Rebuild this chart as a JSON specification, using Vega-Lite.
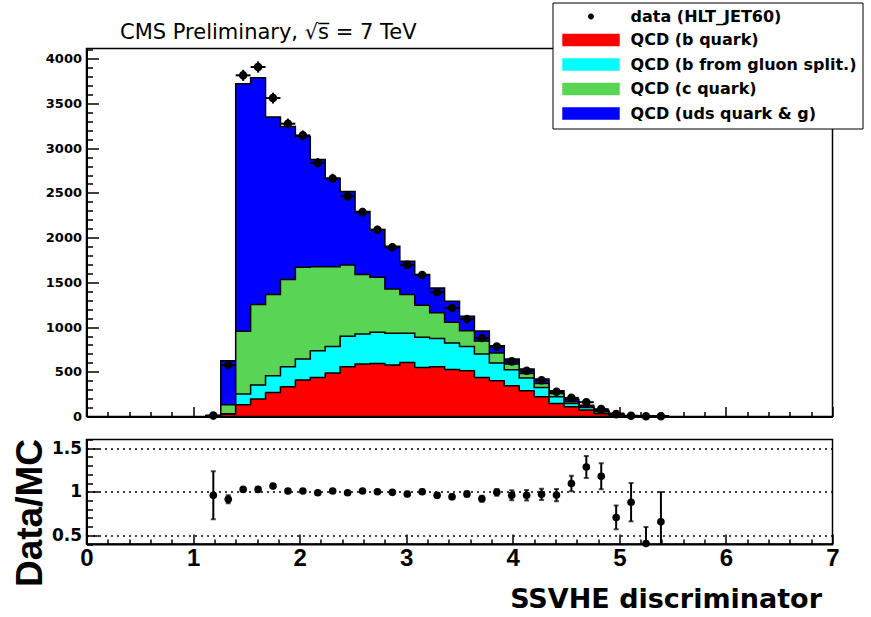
{
  "$schema": "https://vega.github.io/schema/vega-lite/v6.json",
  "background": "white",
  "padding": {"left": 10.5, "top": 1.5, "right": 2, "bottom": 2},
  "bounds": "flush",
  "spacing": 23,
  "config": {
    "view": {"stroke": "black", "strokeWidth": 1.5},
    "axis": {"labelFlush": false, "labelOverlap": false, "domainColor": "black", "tickColor": "black", "labelColor": "black", "titleColor": "black", "grid": false, "tickWidth": 1.5, "domainWidth": 2},
    "legend": {"orient": "none", "legendX": 466, "legendY": -46, "title": null, "padding": 6, "strokeColor": "black", "fillColor": "white", "labelFont": "DejaVu Sans", "labelFontWeight": "bold", "labelFontSize": 16, "labelColor": "black", "labelLimit": 400, "symbolSize": 156, "symbolStrokeColor": "black", "symbolStrokeWidth": 1, "symbolOffset": 24.5, "labelOffset": 31.6, "rowPadding": 6.5, "cornerRadius": 0, "symbolOpacity": 1}
  },
  "datasets": {
    "hist": [
      {"lo": 1.12, "hi": 1.26, "x": 1.19, "b": 2, "bg": 3, "c": 5, "all": 10, "data": 10, "err": 3},
      {"lo": 1.26, "hi": 1.40, "x": 1.33, "b": 25, "bg": 32, "c": 131, "all": 624, "data": 575, "err": 24},
      {"lo": 1.40, "hi": 1.54, "x": 1.47, "b": 131, "bg": 251, "c": 952, "all": 3722, "data": 3815, "err": 62},
      {"lo": 1.54, "hi": 1.68, "x": 1.61, "b": 195, "bg": 352, "c": 1251, "all": 3789, "data": 3908, "err": 63},
      {"lo": 1.68, "hi": 1.82, "x": 1.75, "b": 269, "bg": 456, "c": 1363, "all": 3348, "data": 3561, "err": 60},
      {"lo": 1.82, "hi": 1.96, "x": 1.89, "b": 333, "bg": 557, "c": 1531, "all": 3244, "data": 3274, "err": 57},
      {"lo": 1.96, "hi": 2.10, "x": 2.03, "b": 408, "bg": 643, "c": 1669, "all": 3132, "data": 3143, "err": 56},
      {"lo": 2.10, "hi": 2.24, "x": 2.17, "b": 437, "bg": 736, "c": 1675, "all": 2875, "data": 2837, "err": 53},
      {"lo": 2.24, "hi": 2.38, "x": 2.31, "b": 486, "bg": 784, "c": 1675, "all": 2665, "data": 2662, "err": 52},
      {"lo": 2.38, "hi": 2.52, "x": 2.45, "b": 557, "bg": 896, "c": 1695, "all": 2516, "data": 2464, "err": 50},
      {"lo": 2.52, "hi": 2.66, "x": 2.59, "b": 587, "bg": 923, "c": 1587, "all": 2292, "data": 2285, "err": 48},
      {"lo": 2.66, "hi": 2.80, "x": 2.73, "b": 594, "bg": 941, "c": 1557, "all": 2091, "data": 2087, "err": 46},
      {"lo": 2.80, "hi": 2.94, "x": 2.87, "b": 575, "bg": 930, "c": 1427, "all": 1905, "data": 1893, "err": 44},
      {"lo": 2.94, "hi": 3.08, "x": 3.01, "b": 605, "bg": 930, "c": 1363, "all": 1736, "data": 1695, "err": 41},
      {"lo": 3.08, "hi": 3.22, "x": 3.15, "b": 549, "bg": 885, "c": 1243, "all": 1587, "data": 1583, "err": 40},
      {"lo": 3.22, "hi": 3.36, "x": 3.29, "b": 557, "bg": 873, "c": 1161, "all": 1438, "data": 1390, "err": 37},
      {"lo": 3.36, "hi": 3.50, "x": 3.43, "b": 526, "bg": 822, "c": 1053, "all": 1288, "data": 1214, "err": 35},
      {"lo": 3.50, "hi": 3.64, "x": 3.57, "b": 512, "bg": 784, "c": 960, "all": 1120, "data": 1091, "err": 33},
      {"lo": 3.64, "hi": 3.78, "x": 3.71, "b": 437, "bg": 699, "c": 845, "all": 956, "data": 878, "err": 30},
      {"lo": 3.78, "hi": 3.92, "x": 3.85, "b": 400, "bg": 598, "c": 710, "all": 792, "data": 781, "err": 28},
      {"lo": 3.92, "hi": 4.06, "x": 3.99, "b": 344, "bg": 523, "c": 587, "all": 643, "data": 616, "err": 25},
      {"lo": 4.06, "hi": 4.20, "x": 4.13, "b": 288, "bg": 430, "c": 482, "all": 531, "data": 512, "err": 23},
      {"lo": 4.20, "hi": 4.34, "x": 4.27, "b": 221, "bg": 325, "c": 370, "all": 419, "data": 405, "err": 20},
      {"lo": 4.34, "hi": 4.48, "x": 4.41, "b": 146, "bg": 221, "c": 258, "all": 288, "data": 277, "err": 17},
      {"lo": 4.48, "hi": 4.62, "x": 4.55, "b": 108, "bg": 146, "c": 165, "all": 190, "data": 208, "err": 14},
      {"lo": 4.62, "hi": 4.76, "x": 4.69, "b": 72, "bg": 101, "c": 112, "all": 125, "data": 160, "err": 13},
      {"lo": 4.76, "hi": 4.90, "x": 4.83, "b": 34, "bg": 52, "c": 60, "all": 70, "data": 82, "err": 9},
      {"lo": 4.90, "hi": 5.04, "x": 4.97, "b": 19, "bg": 26, "c": 31, "all": 37, "data": 26, "err": 5},
      {"lo": 5.04, "hi": 5.18, "x": 5.11, "b": 4, "bg": 6, "c": 7, "all": 9, "data": 8, "err": 3},
      {"lo": 5.18, "hi": 5.32, "x": 5.25, "b": 2, "bg": 3, "c": 4, "all": 5, "data": 2, "err": 1.4},
      {"lo": 5.32, "hi": 5.46, "x": 5.39, "b": 1, "bg": 2, "c": 2, "all": 3, "data": 2, "err": 1.4},
      {"lo": 5.46, "b": 0, "bg": 0, "c": 0, "all": 0}
    ],
    "ratio": [
      {"x": 1.19, "r": 0.959, "err": 0.275},
      {"x": 1.33, "r": 0.913, "err": 0.046},
      {"x": 1.47, "r": 1.027, "err": 0.02},
      {"x": 1.61, "r": 1.027, "err": 0.02},
      {"x": 1.75, "r": 1.065, "err": 0.02},
      {"x": 1.89, "r": 1.008, "err": 0.02},
      {"x": 2.03, "r": 1.008, "err": 0.02},
      {"x": 2.17, "r": 0.989, "err": 0.02},
      {"x": 2.31, "r": 1.008, "err": 0.02},
      {"x": 2.45, "r": 0.989, "err": 0.02},
      {"x": 2.59, "r": 1.008, "err": 0.02},
      {"x": 2.73, "r": 1.0, "err": 0.022},
      {"x": 2.87, "r": 0.993, "err": 0.023},
      {"x": 3.01, "r": 0.974, "err": 0.025},
      {"x": 3.15, "r": 1.0, "err": 0.026},
      {"x": 3.29, "r": 0.959, "err": 0.027},
      {"x": 3.43, "r": 0.943, "err": 0.029},
      {"x": 3.57, "r": 0.974, "err": 0.031},
      {"x": 3.71, "r": 0.92, "err": 0.034},
      {"x": 3.85, "r": 0.993, "err": 0.04},
      {"x": 3.99, "r": 0.959, "err": 0.058},
      {"x": 4.13, "r": 0.959, "err": 0.06},
      {"x": 4.27, "r": 0.97, "err": 0.065},
      {"x": 4.41, "r": 0.962, "err": 0.07},
      {"x": 4.55, "r": 1.095, "err": 0.09},
      {"x": 4.69, "r": 1.284, "err": 0.127},
      {"x": 4.83, "r": 1.178, "err": 0.15},
      {"x": 4.97, "r": 0.705, "err": 0.136},
      {"x": 5.11, "r": 0.88, "err": 0.22},
      {"x": 5.25, "r": 0.405, "err": 0.19},
      {"x": 5.39, "r": 0.656, "err": 0.34}
    ]
  },
  "vconcat": [
    {
      "width": 746,
      "height": 368,
      "title": {"text": "CMS Preliminary, √s̅ = 7 TeV", "anchor": "start", "frame": "group", "dx": 33.5, "dy": 21, "offset": 10, "font": "DejaVu Sans", "fontSize": 21, "fontWeight": "normal", "color": "black", "baseline": "alphabetic"},
      "data": {"name": "hist"},
      "layer": [
        {
          "mark": {"type": "area", "interpolate": "step-after", "stroke": "black", "strokeWidth": 1.5},
          "encoding": {
            "x": {"field": "lo", "type": "quantitative", "scale": {"domain": [0, 7], "nice": false, "zero": false},
                  "axis": {"orient": "bottom", "values": [0, 1, 2, 3, 4, 5, 6, 7], "labels": false, "tickSize": -10, "title": null}},
            "y": {"field": "all", "type": "quantitative", "stack": null, "scale": {"domain": [0, 4115], "nice": false},
                  "axis": {"orient": "left", "values": [0, 500, 1000, 1500, 2000, 2500, 3000, 3500, 4000], "format": "d", "labelFont": "DejaVu Sans", "labelFontWeight": "bold", "labelFontSize": 13, "labelPadding": 17, "tickSize": -12, "title": null}},
            "color": {"datum": "QCD (uds quark & g)", "type": "nominal",
                      "scale": {"domain": ["data (HLT_JET60)", "QCD (b quark)", "QCD (b from gluon split.)", "QCD (c quark)", "QCD (uds quark & g)"], "range": ["black", "#ff0000", "#00ffff", "#59d454", "#0000ff"]}}
          }
        },
        {
          "mark": {"type": "area", "interpolate": "step-after", "stroke": "black", "strokeWidth": 1.5},
          "encoding": {
            "x": {"field": "lo", "type": "quantitative", "scale": {"domain": [0, 7], "nice": false, "zero": false},
                  "axis": {"orient": "bottom", "values": [0.2, 0.4, 0.6, 0.8, 1.2, 1.4, 1.6, 1.8, 2.2, 2.4, 2.6, 2.8, 3.2, 3.4, 3.6, 3.8, 4.2, 4.4, 4.6, 4.8, 5.2, 5.4, 5.6, 5.8, 6.2, 6.4, 6.6, 6.8], "labels": false, "tickSize": -5, "domain": false, "title": null}},
            "y": {"field": "c", "type": "quantitative", "stack": null, "scale": {"domain": [0, 4115], "nice": false},
                  "axis": {"orient": "left", "values": [100, 200, 300, 400, 600, 700, 800, 900, 1100, 1200, 1300, 1400, 1600, 1700, 1800, 1900, 2100, 2200, 2300, 2400, 2600, 2700, 2800, 2900, 3100, 3200, 3300, 3400, 3600, 3700, 3800, 3900, 4100], "labels": false, "tickSize": -6, "domain": false, "title": null}},
            "color": {"datum": "QCD (c quark)", "type": "nominal"}
          }
        },
        {
          "mark": {"type": "area", "interpolate": "step-after", "stroke": "black", "strokeWidth": 1.5},
          "encoding": {
            "x": {"field": "lo", "type": "quantitative", "scale": {"domain": [0, 7], "nice": false, "zero": false}, "axis": null},
            "y": {"field": "bg", "type": "quantitative", "stack": null, "scale": {"domain": [0, 4115], "nice": false}, "axis": null},
            "color": {"datum": "QCD (b from gluon split.)", "type": "nominal"}
          }
        },
        {
          "mark": {"type": "area", "interpolate": "step-after", "stroke": "black", "strokeWidth": 1.5},
          "encoding": {
            "x": {"field": "lo", "type": "quantitative", "scale": {"domain": [0, 7], "nice": false, "zero": false}, "axis": null},
            "y": {"field": "b", "type": "quantitative", "stack": null, "scale": {"domain": [0, 4115], "nice": false}, "axis": null},
            "color": {"datum": "QCD (b quark)", "type": "nominal"}
          }
        },
        {
          "mark": {"type": "rule", "color": "black", "strokeWidth": 2},
          "encoding": {
            "x": {"field": "lo", "type": "quantitative", "scale": {"domain": [0, 7], "nice": false, "zero": false}, "axis": null},
            "x2": {"field": "hi"},
            "y": {"field": "data", "type": "quantitative", "scale": {"domain": [0, 4115], "nice": false}, "axis": null}
          }
        },
        {
          "mark": {"type": "errorbar", "color": "black", "thickness": 2},
          "encoding": {
            "x": {"field": "x", "type": "quantitative", "scale": {"domain": [0, 7], "nice": false, "zero": false}, "axis": null},
            "y": {"field": "data", "type": "quantitative", "scale": {"domain": [0, 4115], "nice": false}, "axis": null},
            "yError": {"field": "err"}
          }
        },
        {
          "mark": {"type": "point", "filled": true, "size": 321, "opacity": 1},
          "encoding": {
            "x": {"field": "x", "type": "quantitative", "scale": {"domain": [0, 7], "nice": false, "zero": false}, "axis": null},
            "y": {"field": "data", "type": "quantitative", "scale": {"domain": [0, 4115], "nice": false}, "axis": null},
            "color": {"datum": "data (HLT_JET60)", "type": "nominal"},
            "shape": {"datum": "data (HLT_JET60)", "type": "nominal",
                      "scale": {"domain": ["data (HLT_JET60)", "QCD (b quark)", "QCD (b from gluon split.)", "QCD (c quark)", "QCD (uds quark & g)"],
                                "range": ["M-0.48,0A0.48,0.48,0,1,0,0.48,0A0.48,0.48,0,1,0,-0.48,0Z", "M-4.6,-1H4.6V1H-4.6Z", "M-4.6,-1H4.6V1H-4.6Z", "M-4.6,-1H4.6V1H-4.6Z", "M-4.6,-1H4.6V1H-4.6Z"]}}
          }
        }
      ],
      "resolve": {"axis": {"x": "independent", "y": "independent"}}
    },
    {
      "width": 746,
      "height": 104.5,
      "data": {"name": "ratio"},
      "layer": [
        {
          "mark": {"type": "errorbar", "color": "black", "thickness": 2, "ticks": {"size": 5}, "clip": true},
          "encoding": {
            "x": {"field": "x", "type": "quantitative", "scale": {"domain": [0, 7], "nice": false, "zero": false},
                  "axis": {"orient": "bottom", "values": [0.2, 0.4, 0.6, 0.8, 1.2, 1.4, 1.6, 1.8, 2.2, 2.4, 2.6, 2.8, 3.2, 3.4, 3.6, 3.8, 4.2, 4.4, 4.6, 4.8, 5.2, 5.4, 5.6, 5.8, 6.2, 6.4, 6.6, 6.8], "labels": false, "tickSize": -5, "domain": false, "title": null}},
            "y": {"field": "r", "type": "quantitative", "scale": {"domain": [0.4, 1.6], "nice": false, "zero": false},
                  "axis": {"orient": "left", "values": [0.4, 0.6, 0.7, 0.8, 0.9, 1.1, 1.2, 1.3, 1.4, 1.6], "labels": false, "tickSize": -6, "domain": false, "title": null}},
            "yError": {"field": "err"}
          }
        },
        {
          "mark": {"type": "circle", "color": "black", "size": 58, "opacity": 1},
          "encoding": {
            "x": {"field": "x", "type": "quantitative", "scale": {"domain": [0, 7], "nice": false, "zero": false},
                  "axis": {"orient": "bottom", "values": [0, 1, 2, 3, 4, 5, 6, 7], "labelFont": "Liberation Sans", "labelFontWeight": "bold", "labelFontSize": 24, "labelPadding": 12.5, "tickSize": -10,
                           "title": "SSVHE discriminator", "titleFont": "DejaVu Sans", "titleFontWeight": "bold", "titleFontSize": 27, "titleX": 735, "titleY": 63, "titleAlign": "right", "titleBaseline": "alphabetic"}},
            "y": {"field": "r", "type": "quantitative", "scale": {"domain": [0.4, 1.6], "nice": false, "zero": false},
                  "axis": {"orient": "left", "values": [0.5, 1, 1.5], "format": "~g", "labelFont": "DejaVu Sans", "labelFontWeight": "bold", "labelFontSize": 17, "labelPadding": 17, "tickSize": -12,
                           "grid": true, "gridDash": [2, 4], "gridColor": "black", "gridWidth": 1.3,
                           "title": "Data/MC", "titleFont": "Liberation Sans", "titleFontWeight": "bold", "titleFontSize": 37, "titleX": -56, "titleY": 73, "titleAlign": "center", "titleBaseline": "middle", "titleAngle": 270}}
          }
        }
      ],
      "resolve": {"axis": {"x": "independent", "y": "independent"}}
    }
  ]
}
